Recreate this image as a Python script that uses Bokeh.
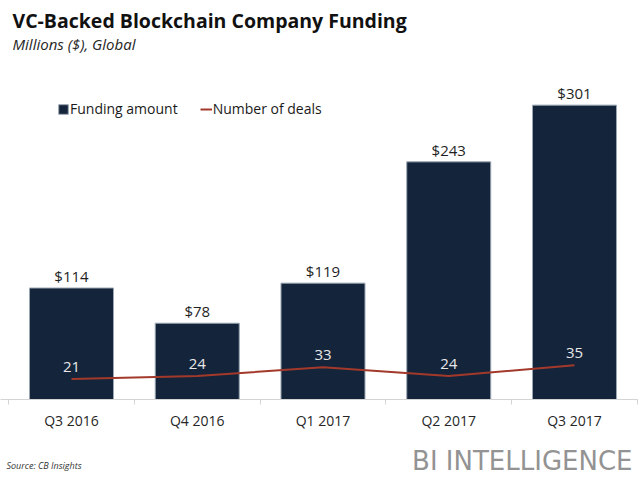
from bokeh.plotting import figure
from bokeh.layouts import column
from bokeh.models import (ColumnDataSource, Range1d, FixedTicker, LabelSet, Label,
                          Legend, LegendItem)
from bokeh.core.properties import value
from bokeh.embed import file_html
from bokeh.resources import INLINE

# ---- data ----
quarters = ["Q3 2016", "Q4 2016", "Q1 2017", "Q2 2017", "Q3 2017"]
funding = [114, 78, 119, 243, 301]
deals = [21, 24, 33, 24, 35]

FONT = "Open Sans"
W = 638
FRAME_H = 399
BOTTOM = 41
X0, X1 = -0.0646, 5.009
Y0, Y1 = 0, 408


def px(page_x):
    return X0 + page_x * (X1 - X0) / W


def py(page_y):
    return Y1 - page_y * (Y1 - Y0) / FRAME_H


xs = [i + 0.5 for i in range(len(quarters))]
src = ColumnDataSource(dict(
    x=xs,
    funding=funding,
    deals=deals,
    flab=["$%d" % v for v in funding],
    dlab=[str(v) for v in deals],
))

p = figure(width=W, height=FRAME_H + BOTTOM, x_range=Range1d(X0, X1),
           y_range=Range1d(Y0, Y1),
           output_backend="svg", toolbar_location=None, y_axis_location=None,
           min_border_left=0, min_border_right=0, min_border_top=0,
           min_border_bottom=BOTTOM)
p.xgrid.visible = False
p.ygrid.visible = False
p.outline_line_color = None
p.background_fill_color = "white"
p.border_fill_color = "white"

bars = p.vbar(x="x", top="funding", width=0.668, source=src,
              fill_color="#14243a", line_color="#9aa6b2", line_width=1)
line = p.line(x="x", y="deals", source=src, line_color="#a3392a", line_width=2)

# x axis
ax = p.xaxis[0]
ax.ticker = FixedTicker(ticks=xs, minor_ticks=[float(i) for i in range(len(quarters) + 1)])
ax.major_label_overrides = {x: q for x, q in zip(xs, quarters)}
ax.axis_line_color = "#d4d4d4"
ax.axis_line_width = 1
ax.major_tick_line_color = None
ax.major_tick_out = 0
ax.major_tick_in = 0
ax.minor_tick_line_color = "#d4d4d4"
ax.minor_tick_out = 5
ax.minor_tick_in = 0
ax.major_label_standoff = 6
ax.major_label_text_font = FONT
ax.major_label_text_font_size = "14px"
ax.major_label_text_color = "#262626"

# value labels
p.add_layout(LabelSet(x="x", y="funding", text="flab", source=src,
                      text_align="center", text_baseline="middle", y_offset=12,
                      text_font=value(FONT), text_font_size="15px",
                      text_color="#1f1f1f"))
p.add_layout(LabelSet(x="x", y="deals", text="dlab", source=src,
                      text_align="center", text_baseline="middle", y_offset=12,
                      text_font=value(FONT), text_font_size="15px",
                      text_color="#e8e8e8"))

# legend
legend = Legend(items=[LegendItem(label="Funding amount", renderers=[bars]),
                       LegendItem(label="Number of deals", renderers=[line])],
                location=(57, 281), orientation="horizontal", padding=0, margin=0,
                spacing=22, glyph_width=12, glyph_height=12, label_standoff=1,
                label_text_font=FONT, label_text_font_size="14px",
                label_text_color="#1a1a1a", border_line_color=None,
                background_fill_alpha=0)
p.add_layout(legend)

# titles
p.add_layout(Label(x=px(12), y=py(19.5), text="VC-Backed Blockchain Company Funding",
                   text_font=FONT, text_font_style="bold", text_font_size="19.5px",
                   text_color="#111111", text_baseline="middle"))
p.add_layout(Label(x=px(12), y=py(43), text="Millions ($), Global",
                   text_font=FONT, text_font_style="italic", text_font_size="15px",
                   text_color="#262626", text_baseline="middle"))

# footer
FH = 38
foot = figure(width=W, height=FH, x_range=Range1d(0, W), y_range=Range1d(0, FH),
              output_backend="svg", toolbar_location=None,
              x_axis_location=None, y_axis_location=None,
              min_border_left=0, min_border_right=0, min_border_top=0,
              min_border_bottom=0)
foot.xgrid.visible = False
foot.ygrid.visible = False
foot.outline_line_color = None
foot.add_layout(Label(x=6, y=13, text="Source: CB Insights",
                      text_font=FONT, text_font_style="italic", text_font_size="9px",
                      text_color="#333333", text_baseline="middle"))
foot.add_layout(Label(x=632, y=18, text="BI INTELLIGENCE",
                      text_font="DejaVu Sans", text_font_size="26px",
                      text_color="#939393", text_baseline="middle", text_align="right"))

layout = column(p, foot, spacing=0)
open("out.html", "w").write(file_html(layout, INLINE))
